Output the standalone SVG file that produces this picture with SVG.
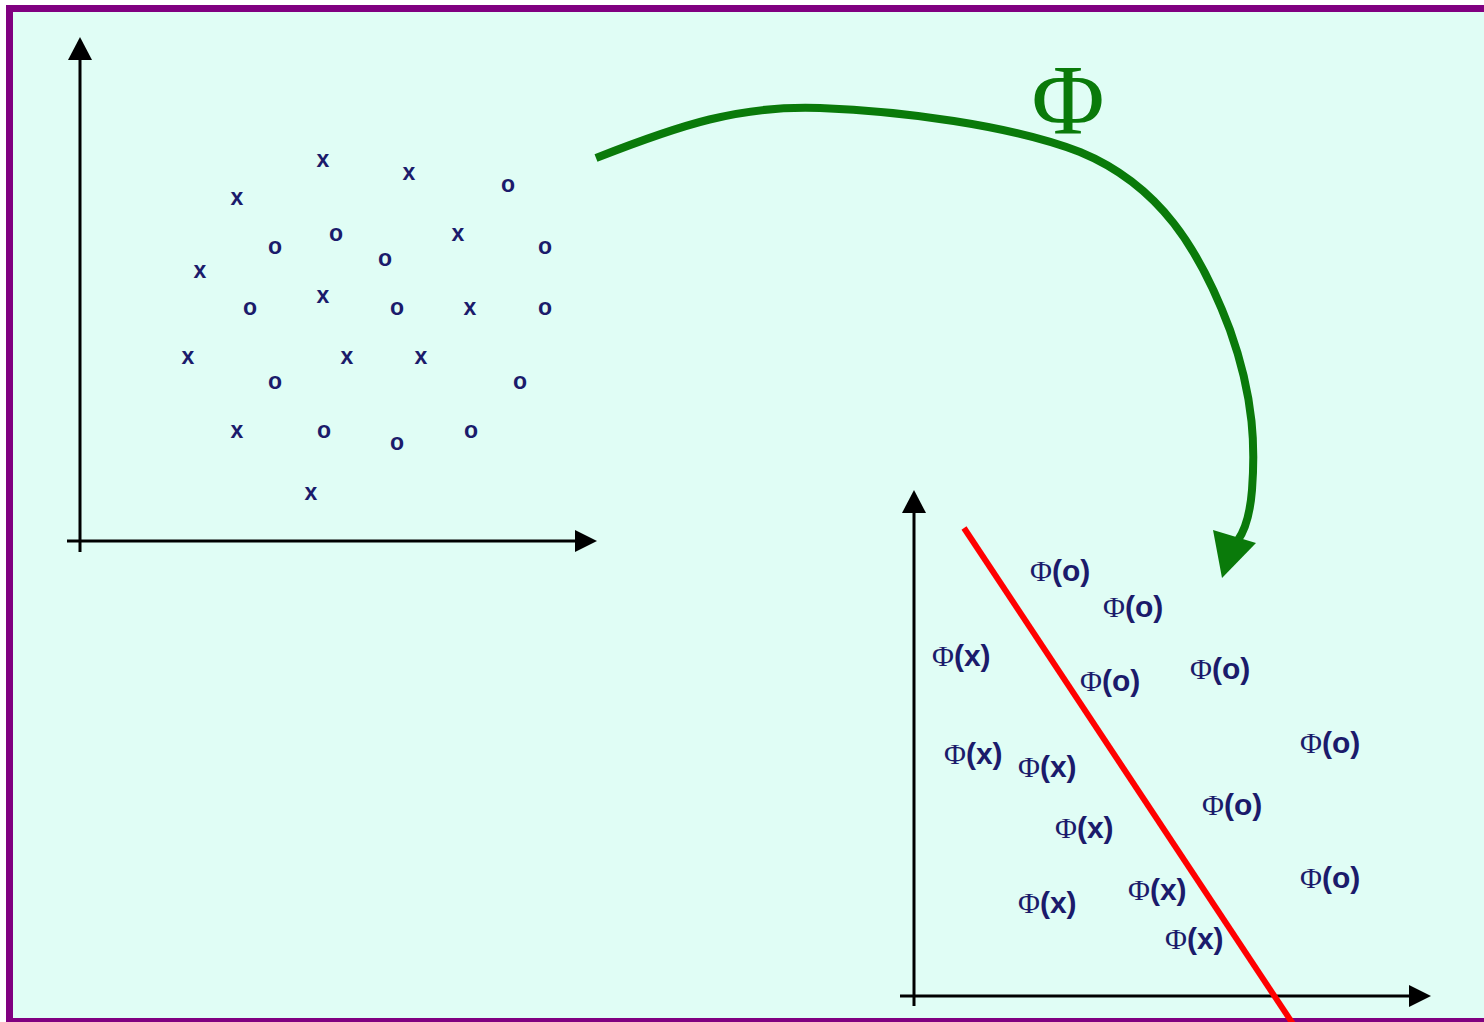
<svg xmlns="http://www.w3.org/2000/svg" width="1484" height="1022" viewBox="0 0 1484 1022">
<style>
.pt{font-family:"Liberation Sans",Arial,sans-serif;font-weight:bold;font-size:23px;fill:#1b1b6b;text-anchor:middle}
.lb{font-size:30px;fill:#1b1b6b}
.phi{font-family:"Liberation Serif","Times New Roman",serif;font-weight:normal}
.par{font-family:"Liberation Sans",Arial,sans-serif;font-weight:bold}
.ax{stroke:#000;stroke-width:3;fill:none}
</style>
<defs>
<marker id="ah" markerWidth="8" markerHeight="8" refX="0" refY="4" orient="auto" markerUnits="userSpaceOnUse" viewBox="0 0 8 8"><path d="M0,0 L8,4 L0,8 z" fill="#000"/></marker>
</defs>
<rect x="0" y="0" width="1484" height="1022" fill="#fff"/>
<rect x="9.5" y="8.5" width="1490" height="1013" fill="#e0fdf5" stroke="#800080" stroke-width="7"/>
<g id="axes-left">
<line class="ax" x1="80" y1="552" x2="80" y2="58"/>
<path d="M80,37 L92,60 L68,60 z" fill="#000"/>
<line class="ax" x1="67" y1="541" x2="576" y2="541"/>
<path d="M597,541 L575,530 L575,552 z" fill="#000"/>
</g>
<g id="axes-right">
<line class="ax" x1="914" y1="1006" x2="914" y2="510"/>
<path d="M914,490 L926,513 L902,513 z" fill="#000"/>
<line class="ax" x1="900" y1="996" x2="1410" y2="996"/>
<path d="M1431,996 L1409,985 L1409,1007 z" fill="#000"/>
</g>
<g id="connectors">
<path d="M596,158 C680,125 740,105 820,108 C900,111 1010,125 1080,152 C1160,185 1200,250 1230,330 C1255,400 1255,450 1252,490 C1250,515 1245,530 1238,540" fill="none" stroke="#0a7a0a" stroke-width="8"/>
<path d="M1213,530 L1256,543 L1222,578 z" fill="#0a7a0a"/>
<text x="1068" y="133" font-family="Liberation Serif,Times New Roman,serif" font-size="100" fill="#0a7a0a" text-anchor="middle">Φ</text>
</g>
<g id="separator">
<line x1="964" y1="528" x2="1293" y2="1024" stroke="#f00" stroke-width="6"/>
</g>
<g id="input-points">
<text class="pt" x="323" y="167">x</text>
<text class="pt" x="409" y="180">x</text>
<text class="pt" x="508" y="192">o</text>
<text class="pt" x="237" y="205">x</text>
<text class="pt" x="275" y="254">o</text>
<text class="pt" x="336" y="241">o</text>
<text class="pt" x="385" y="266">o</text>
<text class="pt" x="458" y="241">x</text>
<text class="pt" x="545" y="254">o</text>
<text class="pt" x="200" y="278">x</text>
<text class="pt" x="250" y="315">o</text>
<text class="pt" x="323" y="303">x</text>
<text class="pt" x="397" y="315">o</text>
<text class="pt" x="470" y="315">x</text>
<text class="pt" x="545" y="315">o</text>
<text class="pt" x="188" y="364">x</text>
<text class="pt" x="347" y="364">x</text>
<text class="pt" x="421" y="364">x</text>
<text class="pt" x="275" y="389">o</text>
<text class="pt" x="520" y="389">o</text>
<text class="pt" x="237" y="438">x</text>
<text class="pt" x="324" y="438">o</text>
<text class="pt" x="397" y="450">o</text>
<text class="pt" x="471" y="438">o</text>
<text class="pt" x="311" y="500">x</text>
</g>
<g id="feature-points">
<text class="lb" x="1030" y="581"><tspan class="phi">Φ</tspan><tspan class="par">(o)</tspan></text>
<text class="lb" x="1103" y="617"><tspan class="phi">Φ</tspan><tspan class="par">(o)</tspan></text>
<text class="lb" x="932" y="666"><tspan class="phi">Φ</tspan><tspan class="par">(x)</tspan></text>
<text class="lb" x="1080" y="691"><tspan class="phi">Φ</tspan><tspan class="par">(o)</tspan></text>
<text class="lb" x="1190" y="679"><tspan class="phi">Φ</tspan><tspan class="par">(o)</tspan></text>
<text class="lb" x="1300" y="753"><tspan class="phi">Φ</tspan><tspan class="par">(o)</tspan></text>
<text class="lb" x="944" y="764"><tspan class="phi">Φ</tspan><tspan class="par">(x)</tspan></text>
<text class="lb" x="1018" y="777"><tspan class="phi">Φ</tspan><tspan class="par">(x)</tspan></text>
<text class="lb" x="1202" y="815"><tspan class="phi">Φ</tspan><tspan class="par">(o)</tspan></text>
<text class="lb" x="1055" y="838"><tspan class="phi">Φ</tspan><tspan class="par">(x)</tspan></text>
<text class="lb" x="1300" y="888"><tspan class="phi">Φ</tspan><tspan class="par">(o)</tspan></text>
<text class="lb" x="1018" y="913"><tspan class="phi">Φ</tspan><tspan class="par">(x)</tspan></text>
<text class="lb" x="1128" y="900"><tspan class="phi">Φ</tspan><tspan class="par">(x)</tspan></text>
<text class="lb" x="1165" y="949"><tspan class="phi">Φ</tspan><tspan class="par">(x)</tspan></text>
</g>
</svg>
